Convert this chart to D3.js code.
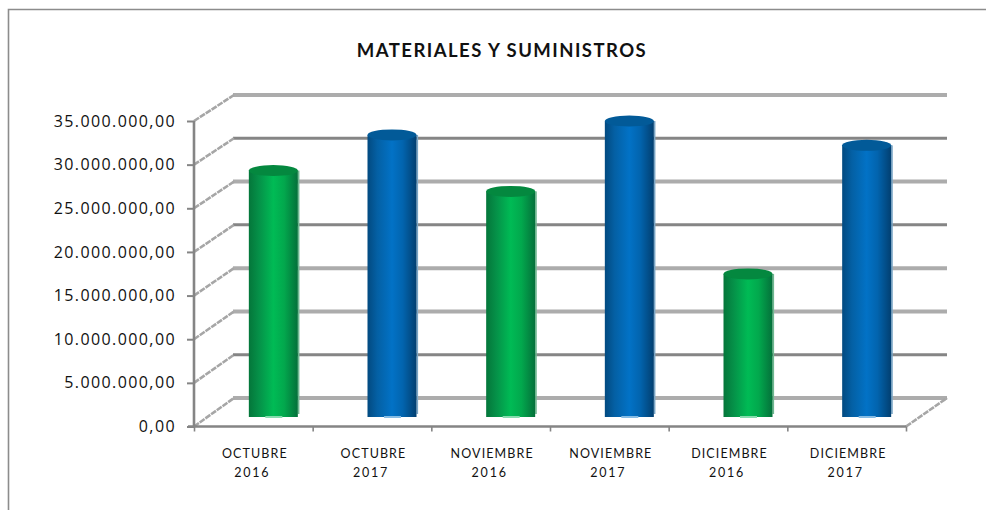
<!DOCTYPE html>
<html><head><meta charset="utf-8">
<script src="https://cdn.jsdelivr.net/npm/d3@7"></script>
<style>html,body{margin:0;padding:0;background:#fff;overflow:hidden}svg{display:block}</style>
</head><body><svg id="c" width="986" height="510"></svg>
<script>
const title = "MATERIALES Y SUMINISTROS";
const categories = [["OCTUBRE","2016"],["OCTUBRE","2017"],["NOVIEMBRE","2016"],["NOVIEMBRE","2017"],["DICIEMBRE","2016"],["DICIEMBRE","2017"]];
const values = [27800000,31900000,25400000,33500000,15900000,30700000];
const seriesKind = ["green","blue","green","blue","green","blue"];
const yTicks = [0,5000000,10000000,15000000,20000000,25000000,30000000,35000000];
const darkTicks = [5000000,20000000,30000000];

const svg = d3.select("#c");
const dx = 40;
const x = d3.scaleBand().domain(d3.range(categories.length)).range([194,906]);
const yFront = d3.scaleLinear().domain([0,35000000]).range([426.5,121]);
const yBack = d3.scaleLinear().domain([0,35000000]).range([398,95]);
const yMid = d3.scaleLinear().domain([0,35000000]).range([412,108]);
const fmt = v => d3.format(",.2f")(v).replace(/,/g,"#").replace(".",",").replace(/#/g,".");

const defs = svg.append("defs");
function grad(id, stops){
  const g = defs.append("linearGradient").attr("id",id);
  stops.forEach(s=>g.append("stop").attr("offset",s[0]).attr("stop-color",s[1]));
}
grad("green",[[0,"#04763a"],[0.2,"#059048"],[0.5,"#00bb55"],[0.72,"#02a84d"],[1,"#04703a"]]);
grad("blue",[[0,"#024a80"],[0.2,"#0460a4"],[0.5,"#0272c6"],[0.72,"#0264ae"],[1,"#023f70"]]);
const topColor = {green:"#04883f",blue:"#025a98"};
const edgeColor = {green:"#6fb890",blue:"#7aa6c6"};
const baseColor = {green:"#86dcae",blue:"#86bce4"};

// frame
svg.append("path").attr("d","M8.5,510V9.5H986").attr("fill","none").attr("stroke","#8c8c8c").attr("stroke-width",1.6);

// back gridlines
svg.append("g").selectAll("line").data(yTicks).join("line")
  .attr("x1",x.range()[0]+dx-1).attr("x2",947)
  .attr("y1",d=>yBack(d)).attr("y2",d=>yBack(d))
  .attr("stroke",d=>darkTicks.includes(d)?"#858585":"#acacac")
  .attr("stroke-width",d=>darkTicks.includes(d)?3:4);

// wall diagonals
svg.append("g").selectAll("line").data(yTicks).join("line")
  .attr("x1",x.range()[0]).attr("x2",x.range()[0]+dx)
  .attr("y1",d=>yFront(d)).attr("y2",d=>yBack(d))
  .attr("stroke","#a6a6a6").attr("stroke-width",2.6).attr("stroke-dasharray","6 1");
// floor right diagonal
svg.append("line").attr("x1",x.range()[1]).attr("x2",947)
  .attr("y1",yFront(0)).attr("y2",yBack(0))
  .attr("stroke","#a6a6a6").attr("stroke-width",2.6).attr("stroke-dasharray","6 1");

// front axes
const axisY = d3.axisLeft(yFront).tickValues(yTicks).tickFormat(fmt).tickSize(7).tickPadding(11);
const gy = svg.append("g").attr("transform",`translate(${x.range()[0]},0)`).call(axisY);
gy.selectAll("path,line").attr("stroke","#858585").attr("stroke-width",2);
gy.select("path").attr("stroke-width",2.6).attr("d",`M0,${yFront(35000000)}V${yFront(0)}`);
gy.selectAll("text").attr("font-family","Open Sans").attr("font-size",16).attr("letter-spacing",1.4).attr("fill","#111");

const axisX = d3.axisBottom(d3.scaleLinear().domain([0,categories.length]).range(x.range()))
  .ticks(categories.length).tickFormat("").tickSize(5);
const gx = svg.append("g").attr("transform",`translate(0,${yFront(0)})`).call(axisX);
gx.selectAll("path,line").attr("stroke","#858585").attr("stroke-width",2.6);
gx.selectAll("line").attr("stroke-width",1.6);
gx.select("path").attr("d",`M${x.range()[0]-6},0H${x.range()[1]}`);

// bars
const bw = 49, ry = 5.5, offs = 20;
const bars = svg.append("g").selectAll("g").data(values).join("g")
  .attr("transform",(d,i)=>`translate(${x(i)+x.bandwidth()/2+offs},0)`);
bars.append("rect").attr("x",bw/2).attr("width",1.6)
  .attr("y",d=>yMid(d)).attr("height",d=>417-yMid(d)-3).attr("fill",(d,i)=>edgeColor[seriesKind[i]]);
bars.append("rect").attr("x",-bw/2).attr("width",bw)
  .attr("y",d=>yMid(d)).attr("height",d=>417-yMid(d))
  .attr("fill",(d,i)=>`url(#${seriesKind[i]})`);
bars.append("ellipse").attr("rx",bw/2).attr("ry",ry).attr("cy",d=>yMid(d))
  .attr("fill",(d,i)=>topColor[seriesKind[i]]);
bars.append("rect").attr("x",-8).attr("width",17).attr("y",416).attr("height",2)
  .attr("fill",(d,i)=>baseColor[seriesKind[i]]);

// category labels
const labels = svg.append("g").selectAll("text").data(categories).join("text")
  .attr("text-anchor","middle").attr("font-family","Lato").attr("font-size",12.5)
  .attr("fill","#111");
labels.each(function(d,i){
  const t = d3.select(this);
  d.forEach((line,k)=>t.append("tspan")
    .attr("x",x(i)+x.bandwidth()/2-1+(k===0?2.5:0)).attr("y",458+k*18.5)
    .attr("letter-spacing",k===0?1.1:1.8).text(line));
});

// title
svg.append("text").attr("x",502).attr("y",57).attr("text-anchor","middle")
  .attr("font-family","Lato").attr("font-weight",700).attr("font-size",18.5).attr("letter-spacing",1.45).attr("fill","#111").text(title);
</script></body></html>
